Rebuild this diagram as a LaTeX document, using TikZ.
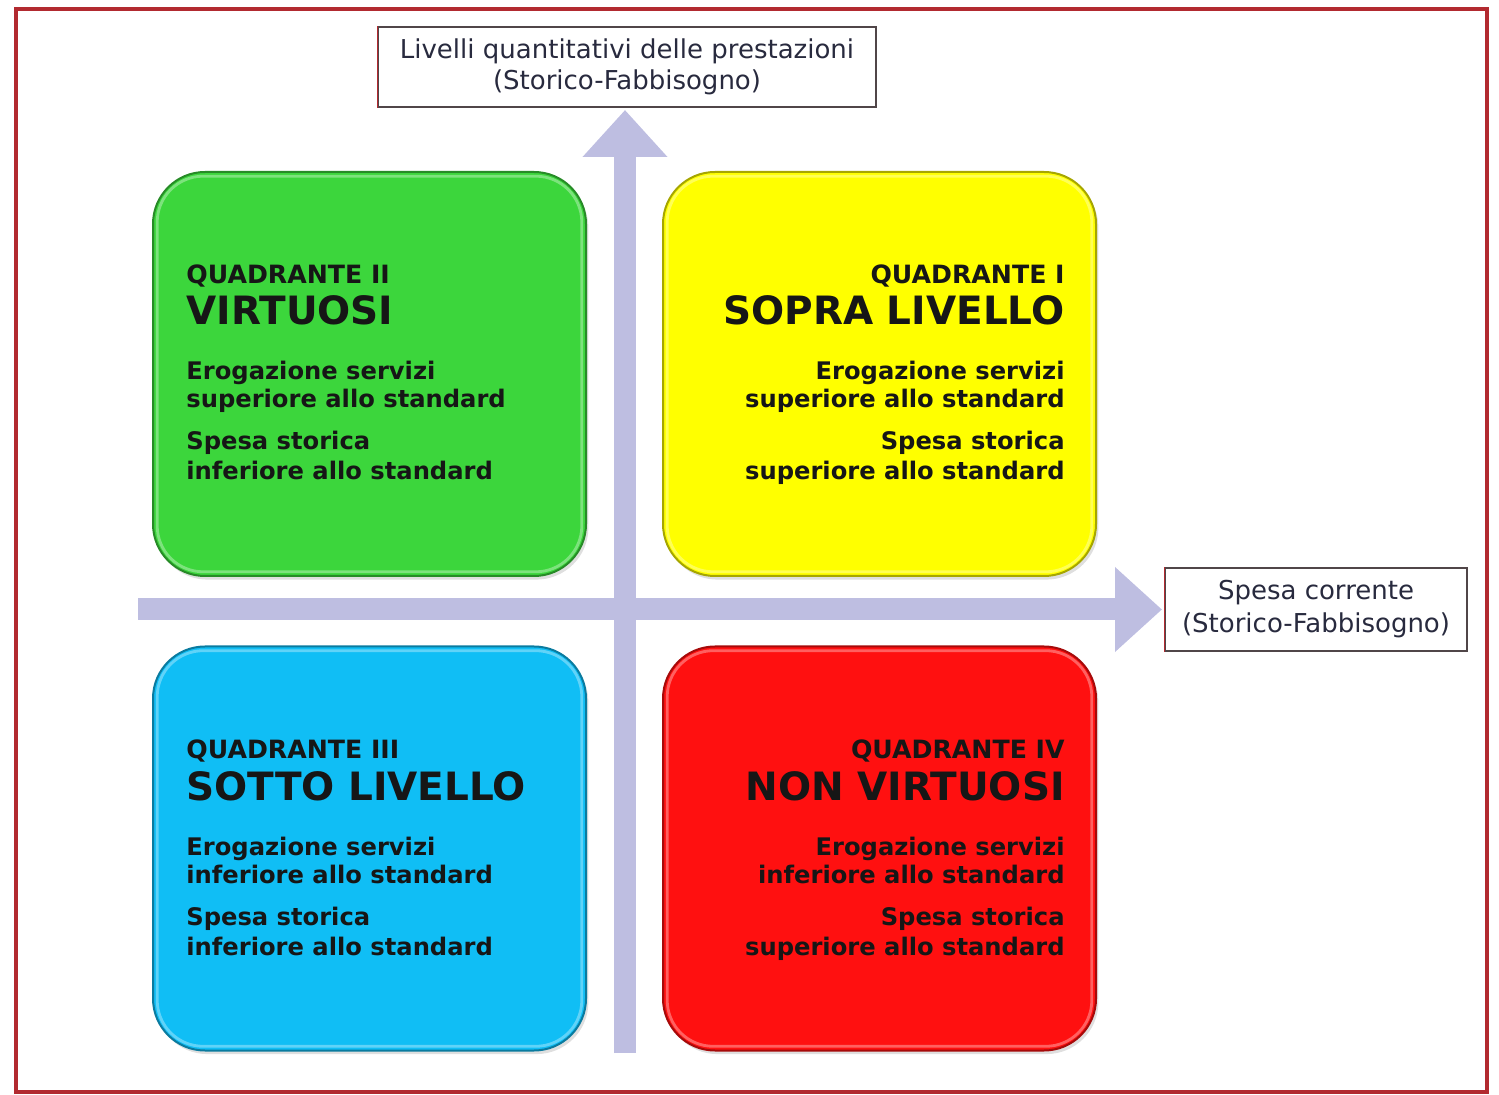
\documentclass[tikz,border=0pt]{standalone}
\usepackage{fontspec}
\setmainfont{DejaVu Sans}
\usetikzlibrary{arrows.meta,shadows}
\definecolor{frame}{RGB}{178,42,48}
\definecolor{axiscol}{RGB}{190,190,225}
\definecolor{qgreen}{RGB}{60,214,60}
\definecolor{qyellow}{RGB}{255,255,0}
\definecolor{qblue}{RGB}{16,190,245}
\definecolor{qred}{RGB}{255,16,16}
\definecolor{txt}{RGB}{22,22,22}
\definecolor{labtxt}{RGB}{40,42,62}
\definecolor{labborder}{RGB}{80,70,72}
\newcommand\qlines[8]{%
  \node[qsmall,anchor=base #2] (#1-a) at (#3,#4) {#5};
  \node[qbig,anchor=base #2] (#1-b) at (#3,#4+41) {#6};
  \node[qbody,anchor=base #2] (#1-c) at (#3,#4+96) {Erogazione servizi};
  \node[qbody,anchor=base #2] (#1-d) at (#3,#4+124) {#7};
  \node[qbody,anchor=base #2] (#1-e) at (#3,#4+166) {Spesa storica};
  \node[qbody,anchor=base #2] (#1-f) at (#3,#4+196) {#8};
}
\newcommand\qbevel[2]{%
  \draw[rounded corners=23pt, draw=#2!55!white, line width=1.4pt, opacity=0.75]
    ([shift={(2.6pt,-2.6pt)}]#1.north west) rectangle ([shift={(-2.6pt,2.6pt)}]#1.south east);
}
\begin{document}
\begin{tikzpicture}[x=0.5pt,y=-0.5pt,
  quad/.style={rounded corners=26pt, minimum width=216.5pt, minimum height=202pt,
    inner sep=0pt, draw=#1!65!black, line width=1pt, fill=#1,
    drop shadow={shadow xshift=1.2pt,shadow yshift=-1.8pt,opacity=0.25}},
  qsmall/.style={font=\bfseries\fontsize{12.6}{14}\selectfont, text=txt, inner sep=0pt},
  qbig/.style={font=\bfseries\fontsize{19.5}{21}\selectfont, text=txt, inner sep=0pt},
  qbody/.style={font=\bfseries\fontsize{12.1}{14}\selectfont, text=txt, inner sep=0pt},
  lab/.style={draw=labborder, line width=0.6pt, fill=white, align=center, text=labtxt,
    font=\fontsize{13}{15.5}\selectfont, inner sep=0pt},
  axis/.style={draw=axiscol, line width=11pt,
    -{Triangle[width=41pt,length=23.5pt]}, shorten >=1.2pt}]
\useasboundingbox (0,0) rectangle (1499,1095);
% outer frame
\draw[frame, line width=2pt] (16,9) rectangle (1487,1092);
% axis labels
\node[lab, minimum width=249pt, minimum height=40pt] (ylab) at (627,67)
  {Livelli quantitativi delle prestazioni\\(Storico-Fabbisogno)};
\node[lab, minimum width=151pt, minimum height=41.5pt, font=\fontsize{13}{16.5}\selectfont] (xlab) at (1316,609.5)
  {Spesa corrente\\(Storico-Fabbisogno)};
\draw[frame, line width=0.8pt] (ylab.north west) -- (ylab.south west);
\draw[frame, line width=0.8pt] (xlab.north west) -- (xlab.south west);
% axes
\coordinate (vstart) at (625,1053);
\coordinate (hstart) at (138,609.5);
\draw[axis] (vstart) -- (vstart |- ylab.south);
\draw[axis] (hstart) -- (xlab.west);
% quadrants
\node[quad=qgreen]  (q2) at (369.5,374) {};
\node[quad=qyellow] (q1) at (879.5,374) {};
\node[quad=qblue]   (q3) at (369.5,848.5) {};
\node[quad=qred]    (q4) at (879.5,848.5) {};
\qbevel{q2}{qgreen}
\qbevel{q1}{qyellow}
\qbevel{q3}{qblue}
\qbevel{q4}{qred}
\qlines{t2}{west}{186}{284}{QUADRANTE II}{VIRTUOSI}{superiore allo standard}{inferiore allo standard}
\qlines{t1}{east}{1065}{284}{QUADRANTE I}{SOPRA LIVELLO}{superiore allo standard}{superiore allo standard}
\qlines{t3}{west}{186}{759}{QUADRANTE III}{SOTTO LIVELLO}{inferiore allo standard}{inferiore allo standard}
\qlines{t4}{east}{1065}{759}{QUADRANTE IV}{NON VIRTUOSI}{inferiore allo standard}{superiore allo standard}
\end{tikzpicture}
\end{document}
